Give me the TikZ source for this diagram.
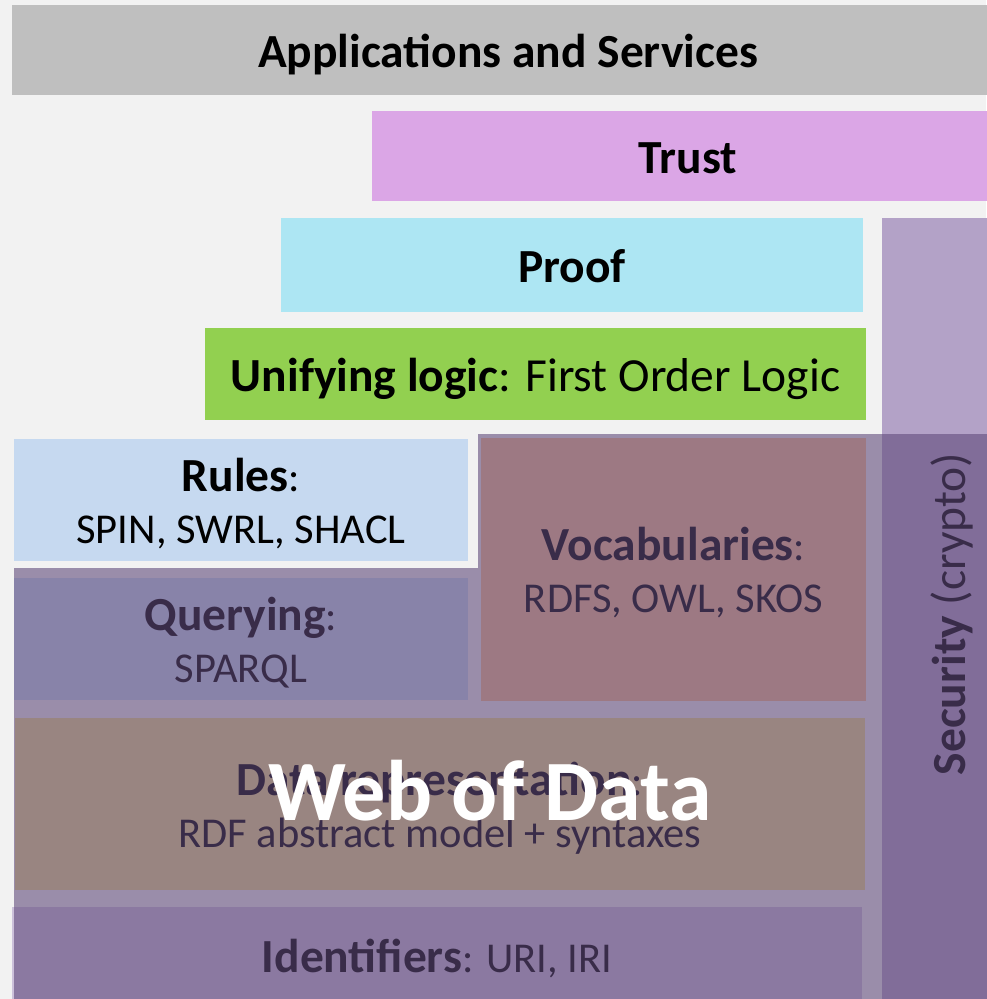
\documentclass[tikz,border=0pt]{standalone}
\usepackage{fontspec}
\setmainfont{Carlito}
\usepackage{tikz}
\usetikzlibrary{positioning}
\definecolor{pagebg}{HTML}{F2F2F2}
\definecolor{appsgray}{HTML}{BFBFBF}
\definecolor{trustpink}{HTML}{DBA6E6}
\definecolor{proofcyan}{HTML}{ADE6F3}
\definecolor{logicgreen}{HTML}{92D050}
\definecolor{securepurple}{HTML}{B3A2C7}
\definecolor{rulesblue}{HTML}{C6D9F0}
\definecolor{vocaborange}{HTML}{FAC090}
\definecolor{datayellow}{HTML}{F0DE8A}
\definecolor{idpurple}{HTML}{CCC1DA}
\definecolor{webveil}{HTML}{604A7B}
\newcommand{\layerfont}{\fontsize{47.5}{52}\selectfont}
\newcommand{\layertitle}[1]{{\fontsize{47.5}{52}\selectfont\bfseries #1}}
\newcommand{\layerdetail}{\fontsize{42.5}{52}\selectfont}

\begin{document}
\begin{tikzpicture}[x=1pt, y=-1pt,
    layer/.style={inner sep=0pt, align=center, font=\layerfont, text height=40pt, text depth=6pt},
    stack/.style={layer, font=\layerdetail, text height=#1, text depth=6pt},
    veil/.style={fill=webveil, fill opacity=0.6}
]
    \useasboundingbox (0,0) rectangle (986,999);
    \fill[pagebg] (0,0) rectangle (986,999);

    \node[layer, fill=appsgray, minimum width=992pt, minimum height=90pt] (apps) at (508,50) {\layertitle{Applications and Services}};
    \node[layer, fill=trustpink, minimum width=632pt, minimum height=90pt] (trust) at (688,156) {\layertitle{Trust}};
    \node[layer, fill=proofcyan, minimum width=582pt, minimum height=94pt] (proof) at (572,265) {\layertitle{Proof}};
    \node[layer, fill=logicgreen, minimum width=661pt, minimum height=92pt] (logic) at (535.5,374) {\layertitle{Unifying logic}: First Order Logic};
    \node[layer, fill=securepurple, rotate=90, minimum width=792pt, minimum height=132pt] (security) at (948,614) {\layertitle{Security} (crypto)};

    \node[stack=92pt, fill=rulesblue, minimum width=454pt, minimum height=122pt] (rules) at (241,500) {\layertitle{Rules}:\\SPIN, SWRL, SHACL};
    \node[stack=93pt, fill=rulesblue, minimum width=454pt, minimum height=122pt] (query) at (241,638.5) {\layertitle{Querying}:\\SPARQL};
    \node[stack=91pt, fill=vocaborange, minimum width=385pt, minimum height=263pt] (vocab) at (673.5,569.5) {\layertitle{Vocabularies}:\\RDFS, OWL, SKOS};
    \node[stack=92pt, fill=datayellow, minimum width=850pt, minimum height=172pt] (datarep) at (440,804) {\layertitle{Data representation}:\\RDF abstract model + syntaxes};
    \node[stack=34pt, fill=idpurple, minimum width=850pt, minimum height=102pt] (ident) at (437,958) {\layertitle{Identifiers}: URI, IRI};

    \fill[veil] (14,568) -- (478,568) -- (478,434) -- (1014,434) -- (1014,1010) -- (14,1010) -- cycle;

    \node[font=\fontsize{86}{96}\selectfont\bfseries, text=white, inner sep=0pt, anchor=base] (web) at (490,820) {Web of Data};
\end{tikzpicture}
\end{document}
